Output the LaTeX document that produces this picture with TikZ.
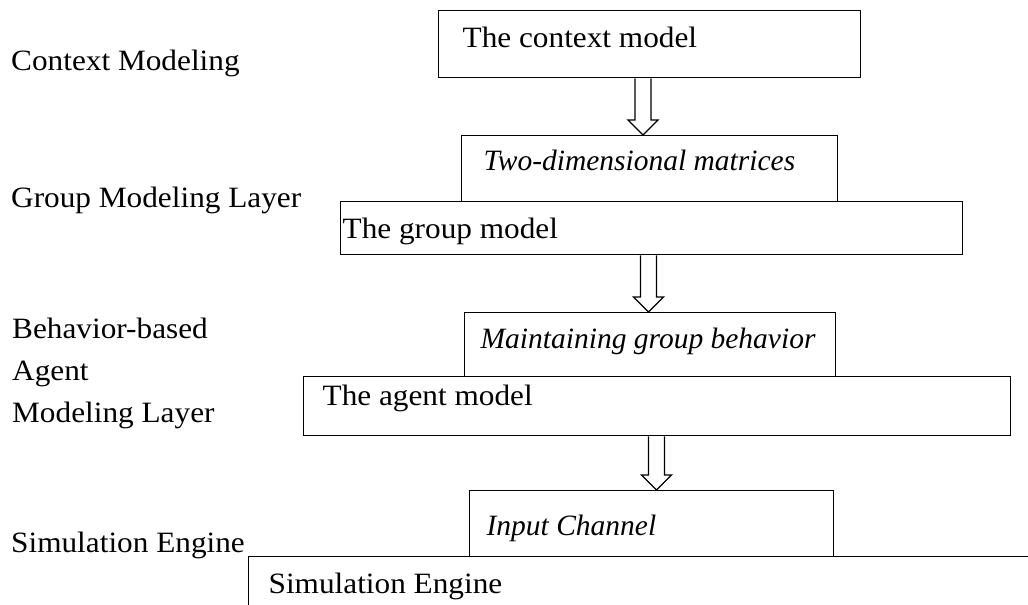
\documentclass[tikz,border=0pt]{standalone}
\usepackage{fontspec}
\setmainfont{Liberation Serif}[
  UprightFont={Liberation Serif},
  ItalicFont={Liberation Serif Italic},
  BoldFont={Liberation Serif Bold},
  UprightFeatures={FakeStretch=1.06}]
\usetikzlibrary{calc}
\tikzset{
  box/.style={draw, rectangle, line width=1.3pt, inner xsep=0pt, inner ysep=0pt, anchor=north west,
    font=\fontsize{29.5}{34}\selectfont},
  lbl/.style={anchor=base west, inner sep=0pt, font=\fontsize{29.5}{34}\selectfont},
  arr/.style={draw, line width=1.3pt, line join=miter, fill=white}
}
\begin{document}
\begin{tikzpicture}[x=1pt, y=-1pt]
\useasboundingbox (0,0) rectangle (1028,605);
\clip (0,0) rectangle (1028,605);
% layer labels
\node[lbl] (l1) at (11,70) {Context Modeling};
\node[lbl] (l2) at (11,207) {Group Modeling Layer};
\node[lbl] (l3a) at (12,338) {Behavior-based};
\node[lbl] (l3b) at (12,380) {Agent};
\node[lbl] (l3c) at (12,422) {Modeling Layer};
\node[lbl] (l4) at (11,552) {Simulation Engine};
% boxes
\node[box, text height=37pt, text depth=30pt] (b1) at (438,10)
  {\makebox[422pt][l]{\hspace{24pt}The context model}};
\node[box, text height=35pt, text depth=31pt] (b2) at (461,135)
  {\makebox[376pt][l]{\hspace{22pt}\itshape Two-dimensional matrices}};
\node[box, text height=37pt, text depth=16pt] (b3) at (340,201)
  {\makebox[622pt][l]{\hspace{2pt}The group model}};
\node[box, text height=36pt, text depth=28pt] (b4) at (464,312)
  {\makebox[371pt][l]{\hspace{16pt}\itshape Maintaining group behavior}};
\node[box, text height=29pt, text depth=30pt] (b5) at (303,376)
  {\makebox[707pt][l]{\hspace{19pt}The agent model}};
\node[box, text height=45pt, text depth=21pt] (b6) at (469,490)
  {\makebox[364pt][l]{\hspace{17pt}\itshape Input Channel}};
\node[box, text height=37pt, text depth=33pt] (b7) at (248,556)
  {\makebox[820pt][l]{\hspace{20pt}Simulation Engine}};
% hollow arrows
\coordinate (x1) at (643,0);
\coordinate (x2) at (648.5,0);
\coordinate (x3) at (656.5,0);
\coordinate (a1s) at (x1 |- b1.south); \coordinate (a1t) at (x1 |- b2.north);
\coordinate (a2s) at (x2 |- b3.south); \coordinate (a2t) at (x2 |- b4.north);
\coordinate (a3s) at (x3 |- b5.south); \coordinate (a3t) at (x3 |- b6.north);
\foreach \s/\t in {a1s/a1t, a2s/a2t, a3s/a3t}{
  \path[arr] ($(\s)+(-8,0)$) -- ($(\t)+(-8,-15)$) -- ($(\t)+(-15,-15)$) -- (\t)
    -- ($(\t)+(15,-15)$) -- ($(\t)+(8,-15)$) -- ($(\s)+(8,0)$);
}
\end{tikzpicture}
\end{document}
